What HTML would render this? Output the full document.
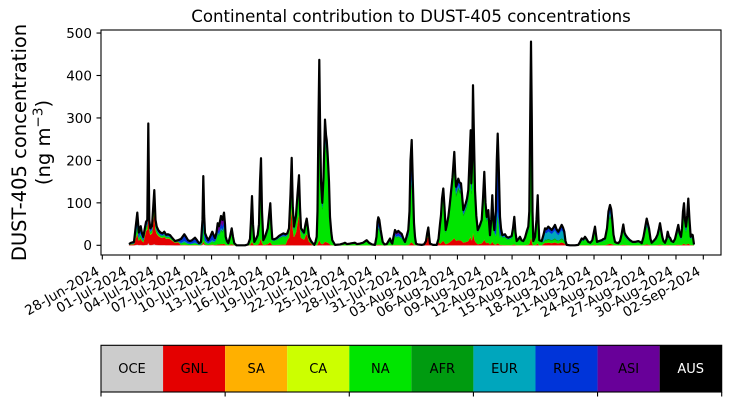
<!DOCTYPE html>
<html>
<head>
<meta charset="utf-8">
<style>
html,body{margin:0;padding:0;background:#fff;}
svg{display:block;}
text{font-family:"DejaVu Sans","Liberation Sans",sans-serif;fill:#000;}
</style>
</head>
<body>
<svg id="chart" width="730" height="402" viewBox="0 0 730 402" xmlns="http://www.w3.org/2000/svg">
<rect x="0" y="0" width="730" height="402" fill="#fff"/>
<g id="data"></g>
<!-- axes frame -->
<rect x="101" y="30" width="620" height="225" fill="none" stroke="#000" stroke-width="1.1"/>
<!-- title -->
<text x="411" y="22" text-anchor="middle" font-size="16.6">Continental contribution to DUST-405 concentrations</text>
<!-- y label -->
<text transform="translate(26,142.5) rotate(-90)" text-anchor="middle" font-size="19.5">DUST-405 concentration</text>
<text transform="translate(50,142.5) rotate(-90)" text-anchor="middle" font-size="19.5">(ng m<tspan font-size="13.6" dy="-7.5">−3</tspan><tspan dy="7.5">)</tspan></text>
<!-- y ticks -->
<g stroke="#000" stroke-width="1.1">
<line x1="96.5" y1="245.3" x2="101" y2="245.3"/>
<line x1="96.5" y1="202.85" x2="101" y2="202.85"/>
<line x1="96.5" y1="160.4" x2="101" y2="160.4"/>
<line x1="96.5" y1="117.95" x2="101" y2="117.95"/>
<line x1="96.5" y1="75.5" x2="101" y2="75.5"/>
<line x1="96.5" y1="33.05" x2="101" y2="33.05"/>
</g>
<g font-size="13.5" text-anchor="end">
<text x="92" y="250.2">0</text>
<text x="92" y="207.8">100</text>
<text x="92" y="165.3">200</text>
<text x="92" y="122.9">300</text>
<text x="92" y="80.4">400</text>
<text x="92" y="38">500</text>
</g>
<!-- x ticks -->
<g stroke="#000" stroke-width="1.1">
<line x1="102.3" y1="255" x2="102.3" y2="259.5"/>
<line x1="129.62" y1="255" x2="129.62" y2="259.5"/>
<line x1="156.94" y1="255" x2="156.94" y2="259.5"/>
<line x1="184.25" y1="255" x2="184.25" y2="259.5"/>
<line x1="211.57" y1="255" x2="211.57" y2="259.5"/>
<line x1="238.89" y1="255" x2="238.89" y2="259.5"/>
<line x1="266.21" y1="255" x2="266.21" y2="259.5"/>
<line x1="293.53" y1="255" x2="293.53" y2="259.5"/>
<line x1="320.84" y1="255" x2="320.84" y2="259.5"/>
<line x1="348.16" y1="255" x2="348.16" y2="259.5"/>
<line x1="375.48" y1="255" x2="375.48" y2="259.5"/>
<line x1="402.8" y1="255" x2="402.8" y2="259.5"/>
<line x1="430.12" y1="255" x2="430.12" y2="259.5"/>
<line x1="457.43" y1="255" x2="457.43" y2="259.5"/>
<line x1="484.75" y1="255" x2="484.75" y2="259.5"/>
<line x1="512.07" y1="255" x2="512.07" y2="259.5"/>
<line x1="539.39" y1="255" x2="539.39" y2="259.5"/>
<line x1="566.71" y1="255" x2="566.71" y2="259.5"/>
<line x1="594.02" y1="255" x2="594.02" y2="259.5"/>
<line x1="621.34" y1="255" x2="621.34" y2="259.5"/>
<line x1="648.66" y1="255" x2="648.66" y2="259.5"/>
<line x1="675.98" y1="255" x2="675.98" y2="259.5"/>
<line x1="703.3" y1="255" x2="703.3" y2="259.5"/>
</g>
<g font-size="13.5" text-anchor="end">
<text x="100.3" y="274" transform="rotate(-30 100.3 274)">28-Jun-2024</text>
<text x="127.62" y="274" transform="rotate(-30 127.62 274)">01-Jul-2024</text>
<text x="154.94" y="274" transform="rotate(-30 154.94 274)">04-Jul-2024</text>
<text x="182.25" y="274" transform="rotate(-30 182.25 274)">07-Jul-2024</text>
<text x="209.57" y="274" transform="rotate(-30 209.57 274)">10-Jul-2024</text>
<text x="236.89" y="274" transform="rotate(-30 236.89 274)">13-Jul-2024</text>
<text x="264.21" y="274" transform="rotate(-30 264.21 274)">16-Jul-2024</text>
<text x="291.53" y="274" transform="rotate(-30 291.53 274)">19-Jul-2024</text>
<text x="318.84" y="274" transform="rotate(-30 318.84 274)">22-Jul-2024</text>
<text x="346.16" y="274" transform="rotate(-30 346.16 274)">25-Jul-2024</text>
<text x="373.48" y="274" transform="rotate(-30 373.48 274)">28-Jul-2024</text>
<text x="400.8" y="274" transform="rotate(-30 400.8 274)">31-Jul-2024</text>
<text x="428.12" y="274" transform="rotate(-30 428.12 274)">03-Aug-2024</text>
<text x="455.43" y="274" transform="rotate(-30 455.43 274)">06-Aug-2024</text>
<text x="482.75" y="274" transform="rotate(-30 482.75 274)">09-Aug-2024</text>
<text x="510.07" y="274" transform="rotate(-30 510.07 274)">12-Aug-2024</text>
<text x="537.39" y="274" transform="rotate(-30 537.39 274)">15-Aug-2024</text>
<text x="564.71" y="274" transform="rotate(-30 564.71 274)">18-Aug-2024</text>
<text x="592.02" y="274" transform="rotate(-30 592.02 274)">21-Aug-2024</text>
<text x="619.34" y="274" transform="rotate(-30 619.34 274)">24-Aug-2024</text>
<text x="646.66" y="274" transform="rotate(-30 646.66 274)">27-Aug-2024</text>
<text x="673.98" y="274" transform="rotate(-30 673.98 274)">30-Aug-2024</text>
<text x="701.3" y="274" transform="rotate(-30 701.3 274)">02-Sep-2024</text>
</g>
<!-- colorbar -->
<g>
<rect x="101" y="345.3" width="62.07" height="46.7" fill="#cccccc"/>
<rect x="163.07" y="345.3" width="62.07" height="46.7" fill="#e40000"/>
<rect x="225.14" y="345.3" width="62.07" height="46.7" fill="#ffb000"/>
<rect x="287.21" y="345.3" width="62.07" height="46.7" fill="#ccff00"/>
<rect x="349.28" y="345.3" width="62.07" height="46.7" fill="#00e500"/>
<rect x="411.35" y="345.3" width="62.07" height="46.7" fill="#009b10"/>
<rect x="473.42" y="345.3" width="62.07" height="46.7" fill="#00a6bd"/>
<rect x="535.49" y="345.3" width="62.07" height="46.7" fill="#0034d9"/>
<rect x="597.56" y="345.3" width="62.07" height="46.7" fill="#680099"/>
<rect x="659.63" y="345.3" width="62.07" height="46.7" fill="#000000"/>
<rect x="101" y="345.3" width="620.7" height="46.7" fill="none" stroke="#000" stroke-width="1.1"/>
</g>
<g stroke="#000" stroke-width="1.1">
<line x1="101" y1="392" x2="101" y2="396.5"/>
<line x1="225.14" y1="392" x2="225.14" y2="396.5"/>
<line x1="349.28" y1="392" x2="349.28" y2="396.5"/>
<line x1="473.42" y1="392" x2="473.42" y2="396.5"/>
<line x1="597.56" y1="392" x2="597.56" y2="396.5"/>
<line x1="721.7" y1="392" x2="721.7" y2="396.5"/>
</g>
<g font-size="13" text-anchor="middle">
<text x="132.03" y="373">OCE</text>
<text x="194.1" y="373">GNL</text>
<text x="256.17" y="373">SA</text>
<text x="318.24" y="373">CA</text>
<text x="380.31" y="373">NA</text>
<text x="442.38" y="373">AFR</text>
<text x="504.45" y="373">EUR</text>
<text x="566.52" y="373">RUS</text>
<text x="628.59" y="373">ASI</text>
<text x="690.66" y="373" style="fill:#fff">AUS</text>
</g>
</svg>
<script>
(function(){
var pts=[[129,3],[131,6],[134,8],[137.3,77],[138.8,30],[140.7,45],[142,28],[143.3,20],[146,55],[147.3,60],[148.3,287],[149.3,60],[150.3,40],[152,45],[154.3,130],[155.5,60],[156.7,44],[158.5,35],[160.5,30],[162.5,28],[164.3,32],[166,25],[168,26],[170,24],[172,18],[175,10],[178,12],[181,15],[184.3,26],[186.5,18],[188,12],[190,10],[192,12],[195,18],[197,12],[199,5],[201,8],[202.5,60],[203.3,163],[204.2,70],[205,29],[206.5,20],[208.3,12],[210.5,22],[212.3,32],[213.5,25],[215,17],[216.5,30],[217.7,52],[219,45],[221,69],[222.5,60],[224,77],[225,50],[225.7,20],[227,10],[228.3,5],[230,20],[231.7,40],[233,20],[234.3,5],[236.5,0],[240,0],[245,0],[248,2],[250,15],[251,60],[252,116],[253,50],[254.3,8],[256,15],[257.7,24],[259,50],[260,150],[261,205],[262,80],[263.3,12],[265,20],[267.7,40],[269,70],[270.3,99],[271.3,50],[272.3,15],[274,14],[276.7,17],[279,22],[281,25],[283.3,28],[285.5,26],[287.3,28],[289,40],[290.5,120],[291.7,206],[292.8,90],[294,44],[296,70],[297.5,120],[299,165],[300,90],[301,40],[302.5,35],[304,30],[305.5,50],[306.7,63],[308,40],[309,20],[311,10],[313,4],[314.3,1],[315.5,8],[316.7,20],[317.5,80],[318.5,300],[319.3,437],[320,300],[321,150],[322.3,100],[323.5,160],[325,296],[326,260],[326.7,248],[327.5,220],[328.3,185],[329,150],[330,67],[331.3,30],[332.3,12],[335,1],[340,2],[343,4],[345,6],[347,3],[350,4],[352,5],[355,6],[357,3],[360,4],[363,6],[366.7,12],[369,6],[372,2],[375,1],[376.5,20],[377.5,55],[378.3,66],[379.3,60],[380.7,36],[382.7,8],[384.5,2],[386.7,3],[388.5,10],[390,16],[391.2,8],[392.3,4],[393.5,20],[395,36],[396.5,30],[398.3,34],[400,30],[401.7,27],[403.5,15],[405,8],[406.5,20],[408.3,36],[409.5,80],[410.5,200],[411.7,248],[412.7,160],[414,52],[415,20],[416,4],[418,2],[421.7,1],[424,2],[426,10],[427.3,30],[428.3,42],[429.2,20],[430,4],[433,1],[436.7,1],[438.5,15],[440,50],[441,71],[442,110],[443.3,134],[444.5,90],[445.7,36],[447,50],[448.3,67],[449.7,95],[451,126],[452.5,160],[454.3,220],[455.2,170],[456,138],[457,145],[458.3,157],[459.5,148],[461,146],[462,120],[463.3,83],[464.5,90],[465.7,99],[467,110],[468.3,130],[469.5,200],[470.7,271],[471.3,146],[472.2,200],[473,377],[474,250],[475,130],[476.3,70],[477.7,36],[479.5,45],[481.7,60],[483,110],[484.3,173],[485.5,100],[486.7,67],[488.3,83],[489.2,50],[490,24],[491.2,60],[492.3,118],[493.3,60],[494.3,36],[495.8,80],[496.8,200],[497.7,263],[498.8,180],[500,67],[501,40],[502.3,24],[505,26],[506.5,20],[508.3,18],[510,20],[511.7,22],[513,40],[514.3,67],[515.5,30],[516.7,10],[518.5,15],[520,20],[521.5,12],[523.3,10],[525,18],[527,35],[528.3,44],[529.3,80],[530.2,300],[531,480],[531.8,300],[532.5,80],[533.3,10],[535,20],[536.5,60],[537.7,118],[538.6,50],[539.3,12],[541.7,10],[543.5,25],[545,40],[546.5,38],[548.3,44],[550,40],[551.7,36],[553.5,42],[555,48],[556.5,38],[558.3,32],[560,40],[561.7,48],[563,42],[564.3,32],[565.5,10],[566.7,1],[570,0],[575,0],[578.3,1],[580,8],[581.7,16],[583.3,14],[585,20],[586.5,15],[588.3,8],[590.3,6],[592.3,12],[593.8,30],[595,44],[596,25],[597,8],[599,10],[601.7,12],[603.5,15],[605,16],[607,40],[608.5,80],[610,95],[611.2,85],[612.3,60],[613.5,25],[615,8],[616.5,6],[618.3,5],[620,10],[621.5,25],[623.3,49],[624.5,30],[625.7,24],[627.5,18],[630,12],[632.5,8],[635,8],[638.3,10],[640,8],[641.7,5],[643.5,20],[645,40],[646.7,63],[648,50],[649,40],[650.5,15],[651.7,6],[653.5,10],[655.7,16],[657.5,25],[659,40],[660,52],[661.2,35],[662.3,20],[663.5,10],[665,6],[666.5,15],[667.7,32],[669,20],[670,18],[671.5,10],[673.3,8],[675,15],[676.5,30],[678.3,48],[679.5,30],[681,20],[682,40],[683,80],[684,99],[685,60],[686,44],[687.2,70],[688.3,110],[689.5,60],[690.7,20],[692,25],[692.7,24],[694,2]];
var order=['OCE','GNL','SA','CA','NA','AFR','EUR','RUS','ASI','AUS'];
var col={OCE:'#cccccc',GNL:'#e40000',SA:'#ffb000',CA:'#ccff00',NA:'#00e500',AFR:'#009b10',EUR:'#00a6bd',RUS:'#0034d9',ASI:'#680099',AUS:'#000000'};
var zones=[
[0,145,{OCE:.02,GNL:.35,NA:.15,AFR:.03,EUR:.1,RUS:.2,ASI:.15}],
[145,180,{OCE:.02,GNL:.6,CA:.02,NA:.12,AFR:.03,EUR:.05,RUS:.1,ASI:.06}],
[180,214,{OCE:.02,GNL:.05,NA:.2,AFR:.03,EUR:.1,RUS:.45,ASI:.15}],
[214,229,{GNL:.05,NA:.45,AFR:.05,EUR:.05,RUS:.15,ASI:.25}],
[229,286,{GNL:.08,NA:.65,AFR:.05,EUR:.05,RUS:.1,ASI:.07}],
[286,313,{GNL:.45,NA:.35,AFR:.05,EUR:.03,RUS:.07,ASI:.05}],
[313,376,{GNL:.03,NA:.82,AFR:.04,EUR:.03,RUS:.05,ASI:.03}],
[376,420,{GNL:.03,NA:.55,AFR:.05,EUR:.05,RUS:.15,ASI:.17}],
[420,440,{GNL:.55,NA:.3,AFR:.03,EUR:.03,RUS:.05,ASI:.04}],
[440,495,{GNL:.08,NA:.75,AFR:.05,EUR:.03,RUS:.06,ASI:.03}],
[495,501,{GNL:.02,NA:.25,EUR:.05,RUS:.63,ASI:.05}],
[501,542,{GNL:.04,NA:.7,AFR:.05,EUR:.06,RUS:.1,ASI:.05}],
[542,567,{GNL:.15,NA:.15,AFR:.05,EUR:.4,RUS:.17,ASI:.08}],
[567,800,{GNL:.04,NA:.65,AFR:.06,EUR:.07,RUS:.1,ASI:.08}]];
function comp(x){for(var i=0;i<zones.length;i++){if(x>=zones[i][0]&&x<zones[i][1])return zones[i][2];}return zones[zones.length-1][2];}
function Y(v){return 245.3-v*0.4245;}
var n=pts.length,cum=[];for(var i=0;i<n;i++)cum.push(0);
var out='';
for(var k=0;k<order.length;k++){
  var key=order[k],lo=cum.slice(),hi=[],any=false;
  for(var i=0;i<n;i++){var f=comp(pts[i][0])[key]||0;if(f>0)any=true;hi.push(lo[i]+f*pts[i][1]);}
  if(any){
    var d='M'+pts[0][0]+','+Y(hi[0]).toFixed(2);
    for(var i=1;i<n;i++)d+='L'+pts[i][0]+','+Y(hi[i]).toFixed(2);
    for(var i=n-1;i>=0;i--)d+='L'+pts[i][0]+','+Y(lo[i]).toFixed(2);
    d+='Z';
    out+='<path d="'+d+'" fill="'+col[key]+'" stroke="'+col[key]+'" stroke-width="0.3"/>';
  }
  cum=hi;
}
var d='M'+pts[0][0]+','+Y(pts[0][1]).toFixed(2);
for(var i=1;i<n;i++)d+='L'+pts[i][0]+','+Y(pts[i][1]).toFixed(2);
out+='<path d="'+d+'" fill="none" stroke="#000" stroke-width="2.2" stroke-linejoin="round"/>';
document.getElementById('data').innerHTML=out;
})();
</script>
</body>
</html>
